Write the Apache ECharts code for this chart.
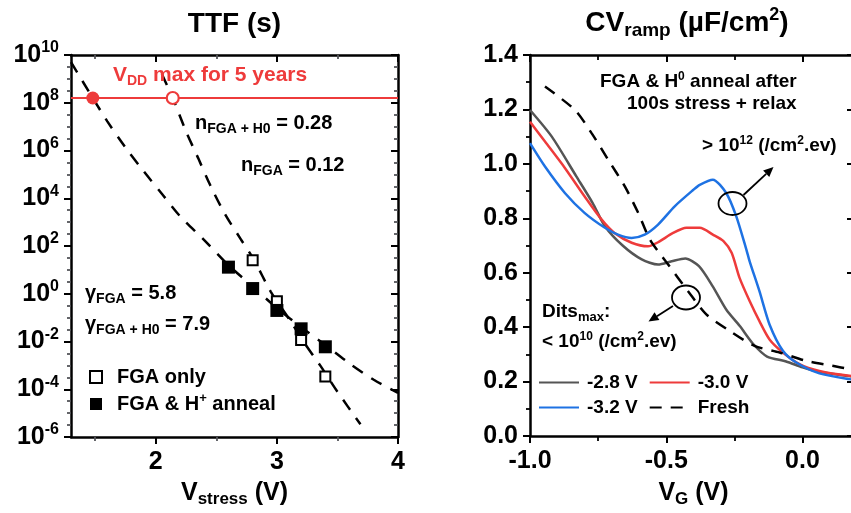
<!DOCTYPE html>
<html>
<head>
<meta charset="utf-8">
<script src="https://cdn.jsdelivr.net/npm/echarts@6/dist/echarts.min.js"></script>
<style>
  html, body { margin: 0; padding: 0; background: #fff; overflow: hidden; }
  #chart { width: 866px; height: 513px; }
</style>
</head>
<body>
<div id="chart"></div>
<script>
// ---------- TTF vs stress voltage ----------
const fgaOnlyV   = [2.8, 3.0, 3.2, 3.4];
const fgaOnlyTTF = [25, 0.49, 0.0115, 3.4e-4];
const annealV    = [2.6, 2.8, 3.0, 3.2, 3.4];
const annealTTF  = [13, 1.65, 0.2, 0.034, 0.006];

// extrapolation fits (dashed)
const fitAnnealV   = [1.30, 1.48, 1.60, 1.75, 1.90, 2.05, 2.20, 2.40, 2.60, 2.80, 3.00, 3.20, 3.40, 3.60, 3.80, 4.00];
const fitAnnealTTF = [5.0e9, 1.58e8, 1.66e7, 1.32e6, 1.35e5, 1.55e4, 1.78e3, 178, 15.8, 2.0, 0.25, 0.040, 7.1e-3, 1.2e-3, 2.5e-4, 7.1e-5];
const fitFgaV      = [2.05, 2.14, 2.25, 2.35, 2.45, 2.57, 2.70, 2.81, 2.95, 3.10, 3.23, 3.36, 3.50, 3.69];
const fitFgaTTF    = [1.58e9, 1.58e8, 6.3e6, 4.8e5, 3.5e4, 2.24e3, 200, 27, 1.2, 0.089, 8.3e-3, 9.5e-4, 7.9e-5, 3.4e-6];

// 5-year lifetime target and the V_DD max read at it
const fiveYearsTTF = 1.58e8;
const vddMaxAnneal = 1.48;
const vddMaxFga    = 2.14;

const ttfMajorTicks = [1e-6, 1e-4, 1e-2, 1, 1e2, 1e4, 1e6, 1e8, 1e10];
const vstressMajorTicks = [2, 3, 4];
const vstressMinorTicks = [1.5, 2.5, 3.5];

// ---------- CV ramp curves ----------
const vg28 = [-1.00, -0.92, -0.83, -0.77, -0.725, -0.66, -0.59, -0.53, -0.48, -0.43, -0.38, -0.33, -0.28, -0.23, -0.18, -0.13, -0.06, 0.00, 0.06, 0.17, 0.25];
const cv28 = [1.198, 1.10, 0.954, 0.856, 0.771, 0.70, 0.649, 0.630, 0.642, 0.652, 0.624, 0.551, 0.465, 0.404, 0.337, 0.292, 0.274, 0.252, 0.236, 0.22, 0.21];
const vg30 = [-1.00, -0.945, -0.872, -0.80, -0.737, -0.69, -0.627, -0.567, -0.53, -0.475, -0.426, -0.377, -0.329, -0.29, -0.26, -0.231, -0.194, -0.158, -0.121, -0.072, -0.011, 0.062, 0.172, 0.25];
const cv30 = [1.155, 1.082, 0.985, 0.881, 0.795, 0.746, 0.710, 0.697, 0.712, 0.746, 0.765, 0.765, 0.740, 0.716, 0.673, 0.581, 0.496, 0.422, 0.355, 0.307, 0.264, 0.239, 0.221, 0.215];
const vg32 = [-1.00, -0.945, -0.872, -0.80, -0.725, -0.677, -0.627, -0.579, -0.53, -0.469, -0.40, -0.377, -0.329, -0.28, -0.243, -0.206, -0.194, -0.158, -0.121, -0.072, -0.023, 0.062, 0.172, 0.25];
const cv32 = [1.076, 0.99, 0.893, 0.82, 0.765, 0.740, 0.728, 0.740, 0.777, 0.844, 0.905, 0.923, 0.942, 0.893, 0.807, 0.685, 0.642, 0.532, 0.41, 0.313, 0.27, 0.23, 0.209, 0.2];
const vgFresh = [-0.945, -0.835, -0.774, -0.713, -0.652, -0.603, -0.56, -0.493, -0.42, -0.353, -0.267, -0.176, -0.084, 0.013, 0.11, 0.172, 0.25];
const cvFresh = [1.284, 1.198, 1.113, 1.015, 0.917, 0.82, 0.722, 0.63, 0.532, 0.447, 0.386, 0.331, 0.307, 0.276, 0.258, 0.246, 0.235];

const RED = '#ee3b3b';
const BLUE = '#1e72e3';
const GRAY = '#555555';
const FONT = '"Liberation Sans", Arial, Helvetica, sans-serif';

const zip = (xs, ys) => xs.map((x, i) => [x, ys[i]]);

// rich-text styles with sub/superscripts for a given base size
function rich(size, color) {
  const L = Math.round(size * 1.2);
  const ss = Math.round(size * 0.68);
  const base = L / 2 + 0.31 * size;
  const subCenter = base + 0.24 * size - 0.31 * ss;
  const sp = Math.round(size * 0.65);
  const supCenter = base - 0.42 * size - 0.31 * sp;
  const common = { fontFamily: FONT, fontWeight: 'bold', color: color, fill: color };
  return {
    b:   Object.assign({}, common, { fontSize: size, lineHeight: L }),
    sub: Object.assign({}, common, { fontSize: ss, lineHeight: 2 * (L - subCenter), verticalAlign: 'bottom' }),
    sup: Object.assign({}, common, { fontSize: sp, lineHeight: 2 * supCenter, verticalAlign: 'top' })
  };
}

// text placed by its baseline
function txt(x, baseline, text, size, color, align) {
  const L = Math.round(size * 1.2);
  return {
    type: 'text', x: x, y: baseline - (L / 2 + 0.31 * size), z: 50,
    style: { text: text, rich: rich(size, color), align: align || 'left', verticalAlign: 'top', fill: color }
  };
}

function arrow(x1, y1, x2, y2) {
  const a = Math.atan2(y2 - y1, x2 - x1);
  const len = 10, half = 4.5;
  const bx = x2 - len * Math.cos(a), by = y2 - len * Math.sin(a);
  const px = -Math.sin(a) * half, py = Math.cos(a) * half;
  return [
    { type: 'line', z: 50, shape: { x1: x1, y1: y1, x2: bx, y2: by }, style: { stroke: '#000', lineWidth: 1.8 } },
    { type: 'polygon', z: 50, shape: { points: [[x2, y2], [bx + px, by + py], [bx - px, by - py]] }, style: { fill: '#000' } }
  ];
}

const axisLine = { show: true, onZero: false, lineStyle: { color: '#000', width: 2.5 } };
const labelStyle = { color: '#000', fontFamily: FONT, fontWeight: 'bold', fontSize: 25 };

const minorTTF = [];
for (let k = -11; k <= 19; k++) {
  if (k % 4 !== 0) minorTTF.push(Math.pow(10, k / 2));
}

const LEFT_X = { min: 1.3, max: 4 };
const LEFT_Y = { min: 1e-6, max: 1e10 };

const option = {
  animation: false,
  backgroundColor: '#fff',
  grid: [
    { left: 71, top: 55, width: 327, height: 383 },
    { left: 530, top: 55, width: 327, height: 382 }
  ],
  xAxis: [
    { gridIndex: 0, type: 'value', position: 'bottom', min: LEFT_X.min, max: LEFT_X.max, axisLine: axisLine,
      axisTick: { show: true, customValues: vstressMajorTicks, length: 7, lineStyle: { width: 2 } },
      axisLabel: { customValues: vstressMajorTicks, margin: 13, ...labelStyle },
      splitLine: { show: false },
      name: '{b|V}{sub|stress}{b| (V)}', nameLocation: 'middle', nameGap: 41,
      nameTextStyle: { rich: rich(25, '#000') } },
    { gridIndex: 0, type: 'value', position: 'bottom', min: LEFT_X.min, max: LEFT_X.max, axisLine: { show: false },
      axisTick: { show: true, customValues: vstressMinorTicks, length: 4, lineStyle: { width: 1.8 } },
      axisLabel: { show: false }, splitLine: { show: false } },
    { gridIndex: 0, type: 'value', position: 'top', min: LEFT_X.min, max: LEFT_X.max, axisLine: axisLine,
      axisTick: { show: true, inside: true, customValues: vstressMajorTicks, length: 7, lineStyle: { width: 2 } },
      axisLabel: { show: false }, splitLine: { show: false } },
    { gridIndex: 0, type: 'value', position: 'top', min: LEFT_X.min, max: LEFT_X.max, axisLine: { show: false },
      axisTick: { show: true, inside: true, customValues: vstressMinorTicks, length: 4, lineStyle: { width: 1.8 } },
      axisLabel: { show: false }, splitLine: { show: false } },
    { gridIndex: 1, type: 'value', position: 'bottom', min: -1.0, max: 0.2, interval: 0.5, axisLine: axisLine,
      axisTick: { show: true, length: 7, lineStyle: { width: 2 } },
      minorTick: { show: true, splitNumber: 2, length: 5, lineStyle: { color: '#000', width: 1.8 } },
      axisLabel: { margin: 13, showMaxLabel: false, formatter: v => v.toFixed(1), ...labelStyle },
      splitLine: { show: false }, minorSplitLine: { show: false },
      name: '{b|V}{sub|G}{b| (V)}', nameLocation: 'middle', nameGap: 42,
      nameTextStyle: { rich: rich(25, '#000') } },
    { gridIndex: 1, type: 'value', position: 'top', min: -1.0, max: 0.2, interval: 0.5, axisLine: axisLine,
      axisTick: { show: true, inside: true, length: 7, lineStyle: { width: 2 } },
      minorTick: { show: true, splitNumber: 2, length: 5, lineStyle: { color: '#000', width: 1.8 } },
      axisLabel: { show: false }, splitLine: { show: false } }
  ],
  yAxis: [
    { gridIndex: 0, type: 'log', logBase: 10, position: 'left', min: LEFT_Y.min, max: LEFT_Y.max, axisLine: axisLine,
      axisTick: { show: true, customValues: ttfMajorTicks, length: 7, lineStyle: { width: 2 } },
      axisLabel: { customValues: ttfMajorTicks, margin: 12,
        formatter: v => '{b|10}{sup|' + Math.round(Math.log10(v)) + '}',
        rich: rich(25, '#000') },
      splitLine: { show: false } },
    { gridIndex: 0, type: 'log', logBase: 10, position: 'left', min: LEFT_Y.min, max: LEFT_Y.max, axisLine: { show: false },
      axisTick: { show: true, customValues: minorTTF, length: 4, lineStyle: { width: 1.8 } },
      axisLabel: { show: false }, splitLine: { show: false } },
    { gridIndex: 0, type: 'log', logBase: 10, position: 'right', min: LEFT_Y.min, max: LEFT_Y.max, axisLine: axisLine,
      axisTick: { show: true, inside: true, customValues: ttfMajorTicks, length: 7, lineStyle: { width: 2 } },
      axisLabel: { show: false }, splitLine: { show: false } },
    { gridIndex: 0, type: 'log', logBase: 10, position: 'right', min: LEFT_Y.min, max: LEFT_Y.max, axisLine: { show: false },
      axisTick: { show: true, inside: true, customValues: minorTTF, length: 4, lineStyle: { width: 1.8 } },
      axisLabel: { show: false }, splitLine: { show: false } },
    { gridIndex: 1, type: 'value', position: 'left', min: 0, max: 1.4, interval: 0.2, axisLine: axisLine,
      axisTick: { show: true, length: 7, lineStyle: { width: 2 } },
      minorTick: { show: true, splitNumber: 2, length: 4, lineStyle: { color: '#000', width: 1.8 } },
      axisLabel: { margin: 12, formatter: v => v.toFixed(1), ...labelStyle },
      splitLine: { show: false }, minorSplitLine: { show: false } },
    { gridIndex: 1, type: 'value', position: 'right', min: 0, max: 1.4, interval: 0.2, axisLine: axisLine,
      axisTick: { show: true, inside: true, length: 10, lineStyle: { width: 2 } },
      minorTick: { show: true, splitNumber: 2, length: 5, lineStyle: { color: '#000', width: 1.8 } },
      axisLabel: { show: false }, splitLine: { show: false } }
  ],
  legend: [
    { data: ['FGA only', 'FGA & H+ anneal'], orient: 'vertical', left: 89, top: 367, padding: 0,
      itemWidth: 12, itemHeight: 12, itemGap: 5, icon: 'rect', selectedMode: false,
      formatter: n => n === 'FGA & H+ anneal' ? '{b|FGA & H}{sup|+}{b| anneal}' : '{b|' + n + '}',
      textStyle: { padding: [0, 0, 0, 10], rich: rich(20, '#000') } },
    { data: ['-2.8 V', '-3.0 V'], orient: 'horizontal', left: 538, top: 373, padding: 0,
      itemWidth: 40, itemHeight: 14, itemGap: 11, selectedMode: false, itemStyle: { opacity: 0 },
      formatter: n => '{b|' + n + '}', textStyle: { padding: [0, 0, 0, 3], rich: rich(19, '#000') } },
    { data: ['-3.2 V', 'Fresh'], orient: 'horizontal', left: 538, top: 398, padding: 0,
      itemWidth: 40, itemHeight: 14, itemGap: 11, selectedMode: false, itemStyle: { opacity: 0 },
      formatter: n => '{b|' + n + '}', textStyle: { padding: [0, 0, 0, 3], rich: rich(19, '#000') } }
  ],
  series: [
    // ---- TTF panel ----
    { type: 'line', name: 'fit FGA & H anneal', xAxisIndex: 0, yAxisIndex: 0, data: zip(fitAnnealV, fitAnnealTTF),
      symbol: 'none', smooth: 0.3, lineStyle: { color: '#000', width: 2.5, type: [12, 10] }, z: 2 },
    { type: 'line', name: 'fit FGA only', xAxisIndex: 0, yAxisIndex: 0, data: zip(fitFgaV, fitFgaTTF),
      symbol: 'none', smooth: 0.3, lineStyle: { color: '#000', width: 2.5, type: [12, 10] }, z: 2 },
    { type: 'scatter', name: 'VDD max (anneal)', xAxisIndex: 0, yAxisIndex: 0, data: [[vddMaxAnneal, fiveYearsTTF]],
      symbol: 'circle', symbolSize: 13, itemStyle: { color: RED, opacity: 1 }, z: 6,
      markLine: { silent: true, symbol: 'none', label: { show: false },
        lineStyle: { color: RED, width: 2, type: 'solid' }, data: [{ yAxis: fiveYearsTTF }] } },
    { type: 'scatter', name: 'VDD max (FGA)', xAxisIndex: 0, yAxisIndex: 0, data: [[vddMaxFga, fiveYearsTTF]],
      symbol: 'circle', symbolSize: 12, itemStyle: { color: '#fff', borderColor: RED, borderWidth: 2.2, opacity: 1 }, z: 6 },
    { type: 'scatter', name: 'FGA only', xAxisIndex: 0, yAxisIndex: 0, data: zip(fgaOnlyV, fgaOnlyTTF),
      symbol: 'rect', symbolSize: 10, itemStyle: { color: '#fff', borderColor: '#000', borderWidth: 2, opacity: 1 }, z: 5 },
    { type: 'scatter', name: 'FGA & H+ anneal', xAxisIndex: 0, yAxisIndex: 0, data: zip(annealV, annealTTF),
      symbol: 'rect', symbolSize: 13, itemStyle: { color: '#000', opacity: 1 }, z: 5 },
    // ---- CV panel ----
    { type: 'line', name: '-2.8 V', xAxisIndex: 4, yAxisIndex: 4, data: zip(vg28, cv28), symbol: 'none',
      smooth: 0.25, itemStyle: { color: GRAY }, lineStyle: { color: GRAY, width: 2.5 } },
    { type: 'line', name: '-3.0 V', xAxisIndex: 4, yAxisIndex: 4, data: zip(vg30, cv30), symbol: 'none',
      smooth: 0.25, itemStyle: { color: RED }, lineStyle: { color: RED, width: 2.5 } },
    { type: 'line', name: '-3.2 V', xAxisIndex: 4, yAxisIndex: 4, data: zip(vg32, cv32), symbol: 'none',
      smooth: 0.25, itemStyle: { color: BLUE }, lineStyle: { color: BLUE, width: 2.5 } },
    { type: 'line', name: 'Fresh', xAxisIndex: 4, yAxisIndex: 4, data: zip(vgFresh, cvFresh), symbol: 'none',
      smooth: 0.25, itemStyle: { color: '#000' }, lineStyle: { color: '#000', width: 2.5, type: [12, 9] } }
  ],
  graphic: [
    // titles
    txt(234.5, 33, '{b|TTF (s)}', 28, '#000', 'center'),
    txt(687, 32, '{b|CV}{sub|ramp}{b| (µF/cm}{sup|2}{b|)}', 28, '#000', 'center'),
    // TTF annotations
    txt(113, 82, '{b|V}{sub|DD}{b| max for 5 years}', 21, RED),
    txt(195, 130, '{b|n}{sub|FGA + H0}{b| = 0.28}', 20, '#000'),
    txt(241, 172, '{b|n}{sub|FGA}{b| = 0.12}', 20, '#000'),
    txt(85, 300, '{b|γ}{sub|FGA}{b| = 5.8}', 20, '#000'),
    txt(85, 331, '{b|γ}{sub|FGA + H0}{b| = 7.9}', 20, '#000'),
    // CV annotations
    txt(600, 88, '{b|FGA & H}{sup|0}{b| anneal after}', 19, '#000'),
    txt(627, 110, '{b|100s stress + relax}', 19, '#000'),
    txt(702, 152, '{b|> 10}{sup|12}{b| (/cm}{sup|2}{b|.ev)}', 19, '#000'),
    txt(542, 318, '{b|Dits}{sub|max}{b|:}', 19, '#000'),
    txt(542, 348, '{b|< 10}{sup|10}{b| (/cm}{sup|2}{b|.ev)}', 19, '#000'),
    { type: 'ellipse', z: 50, shape: { cx: 732.5, cy: 203.5, rx: 14, ry: 11.5 }, style: { fill: 'none', stroke: '#000', lineWidth: 1.8 } },
    { type: 'ellipse', z: 50, shape: { cx: 686, cy: 297.5, rx: 14, ry: 12 }, style: { fill: 'none', stroke: '#000', lineWidth: 1.8 } },
    ...arrow(743.5, 195, 773.5, 167),
    ...arrow(673, 306, 648.5, 321.5)
  ]
};

const chart = echarts.init(document.getElementById('chart'), null, { renderer: 'canvas' });
chart.setOption(option);
</script>
</body>
</html>
